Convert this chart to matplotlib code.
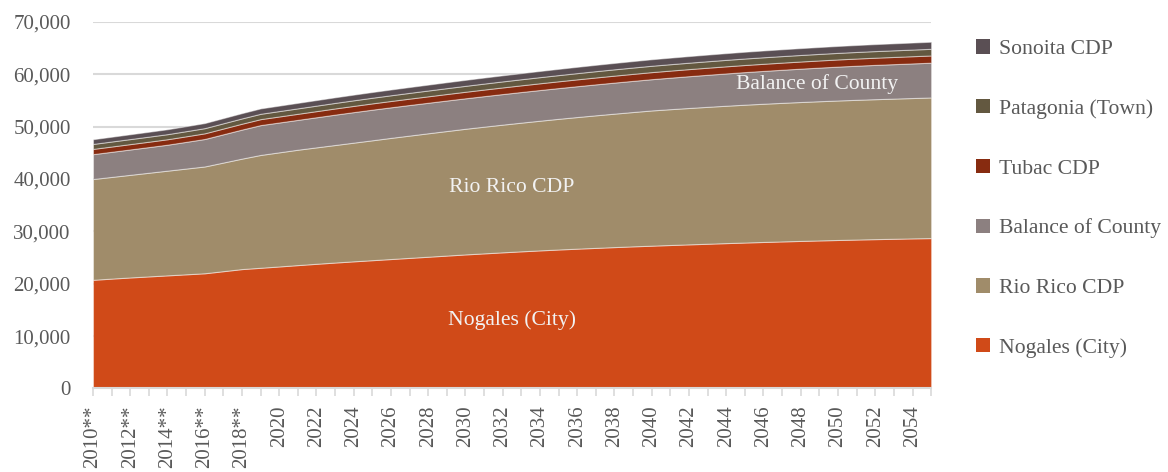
import numpy as np
import matplotlib
matplotlib.use("Agg")
import matplotlib.pyplot as plt
from matplotlib.patches import Patch
from matplotlib.ticker import FuncFormatter, MultipleLocator

plt.rcParams['font.family'] = ['Liberation Serif', 'DejaVu Serif']

years = list(range(2010, 2056))

nogales = [20750, 20980, 21200, 21400, 21600, 21800, 22000, 22400, 22800, 23050,
           23300, 23560, 23810, 24050, 24280, 24500, 24720, 24940, 25160, 25380,
           25600, 25800, 26000, 26190, 26370, 26540, 26700, 26850, 27000, 27140,
           27270, 27400, 27520, 27640, 27760, 27870, 27980, 28080, 28180, 28270,
           28360, 28440, 28520, 28590, 28660, 28720]
rio_rico = [19250, 19420, 19600, 19800, 20000, 20200, 20400, 20750, 21100, 21550,
            21800, 22040, 22240, 22450, 22670, 22900, 23140, 23360, 23580, 23790,
            24000, 24200, 24390, 24580, 24770, 24960, 25140, 25320, 25490, 25660,
            25830, 25940, 26050, 26150, 26240, 26330, 26400, 26470, 26530, 26590,
            26640, 26690, 26730, 26770, 26810, 26860]
balance = [4750, 4800, 4850, 4900, 4960, 5100, 5250, 5400, 5550, 5700,
           5700, 5700, 5750, 5800, 5830, 5850, 5840, 5840, 5830, 5830,
           5820, 5830, 5840, 5850, 5860, 5870, 5890, 5910, 5930, 5950,
           5970, 6020, 6070, 6120, 6170, 6220, 6270, 6320, 6370, 6420,
           6470, 6510, 6550, 6580, 6610, 6640]
tubac = [1000, 1010, 1020, 1030, 1040, 1060, 1080, 1100, 1120, 1140,
         1150, 1160, 1170, 1180, 1190, 1200, 1210, 1220, 1230, 1240,
         1250, 1260, 1270, 1280, 1290, 1300, 1310, 1320, 1330, 1340,
         1350, 1352, 1354, 1356, 1358, 1360, 1362, 1364, 1366, 1368,
         1370, 1372, 1374, 1376, 1378, 1380]
patagonia = [950, 955, 960, 965, 970, 980, 990, 1000, 1010, 1020,
             1030, 1040, 1050, 1060, 1070, 1080, 1090, 1100, 1110, 1120,
             1130, 1140, 1150, 1160, 1170, 1180, 1190, 1200, 1205, 1210,
             1215, 1220, 1225, 1230, 1235, 1240, 1243, 1246, 1249, 1252,
             1255, 1258, 1261, 1264, 1267, 1270]
sonoita = [900, 910, 920, 930, 940, 955, 970, 990, 1010, 1030,
           1040, 1050, 1060, 1070, 1080, 1090, 1100, 1110, 1120, 1130,
           1140, 1150, 1160, 1170, 1180, 1190, 1200, 1210, 1220, 1230,
           1240, 1250, 1260, 1270, 1280, 1290, 1296, 1302, 1308, 1314,
           1320, 1326, 1332, 1338, 1344, 1350]

names = ['Nogales (City)', 'Rio Rico CDP', 'Balance of County',
         'Tubac CDP', 'Patagonia (Town)', 'Sonoita CDP']
colors = ['#D04A18', '#A08C6A', '#8C8080', '#872B10', '#635840', '#5A4F54']
series = [nogales, rio_rico, balance, tubac, patagonia, sonoita]

fig = plt.figure(figsize=(11.68, 4.72), dpi=100)
ax = fig.add_axes([0.0796, 0.177, 0.7176, 0.7765])

ax.stackplot(years, *series, colors=colors, edgecolor=(1, 1, 1, 0.45),
             linewidth=0.8, zorder=2)

ax.set_xlim(2010, 2055)
ax.set_ylim(0, 70000)
ax.yaxis.set_major_locator(MultipleLocator(10000))
ax.yaxis.set_major_formatter(FuncFormatter(lambda v, p: f'{int(v):,}'))
ax.grid(axis='y', color='#d9d9d9', linewidth=1.5, zorder=0)
ax.set_axisbelow(True)

xt = list(range(2010, 2055, 2))
xl = [f'{y}**' if y < 2020 else str(y) for y in xt]
ax.set_xticks(xt)
ax.set_xticklabels(xl, rotation=90)
ax.xaxis.set_minor_locator(MultipleLocator(1))

for s in ['top', 'right', 'left']:
    ax.spines[s].set_visible(False)
ax.spines['bottom'].set_color('#d9d9d9')
ax.spines['bottom'].set_linewidth(1.5)
ax.tick_params(axis='y', length=0, pad=16, labelsize=15, labelcolor='#595959')
ax.tick_params(axis='x', which='both', length=6, width=1.2, color='#d9d9d9',
               pad=6, labelsize=15, labelcolor='#595959')

# labels in the middle of the three big bands
base = np.zeros(len(years))
tops = []
for s in series:
    tops.append((base.copy(), base + np.array(s)))
    base = base + np.array(s)

def band_label(i, x, text):
    lo = np.interp(x, years, tops[i][0])
    hi = np.interp(x, years, tops[i][1])
    ax.text(x, (lo + hi) / 2, text, ha='center', va='center',
            fontsize=15.6, color='#f2f2f2', zorder=3)

band_label(0, 2032.5, 'Nogales (City)')
band_label(1, 2032.5, 'Rio Rico CDP')
band_label(2, 2048.9, 'Balance of County')

handles = [Patch(facecolor=c, edgecolor='none') for c in colors][::-1]
fig.legend(handles, names[::-1], loc='upper left', bbox_to_anchor=(0.819, 0.958),
           frameon=False, fontsize=15.6, labelcolor='#595959',
           handlelength=0.65, handleheight=0.65, handletextpad=0.4,
           labelspacing=1.84)

fig.savefig('out.png', dpi=100)
